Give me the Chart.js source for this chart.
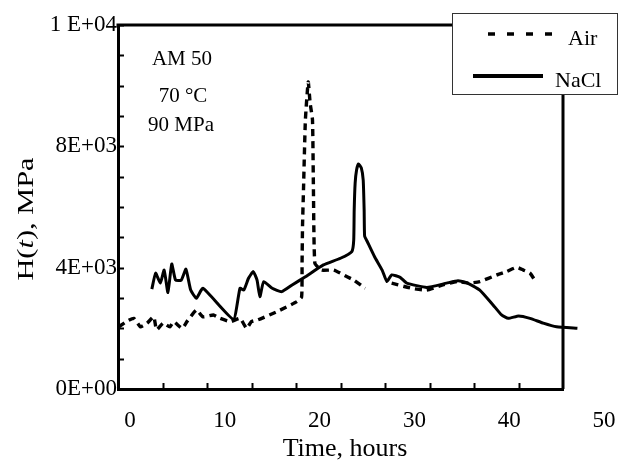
<!DOCTYPE html>
<html>
<head>
<meta charset="utf-8">
<script src="https://cdn.jsdelivr.net/npm/chart.js@4/dist/chart.umd.min.js"></script>
<style>
  html, body { margin: 0; padding: 0; background: #fff; }
  #wrap { width: 618px; height: 462px; }
</style>
</head>
<body>
<div id="wrap"><canvas id="c" width="618" height="462"></canvas></div>
<script>
// ---- data ----
const airTime  = [-1.2, -0.4, 0.4, 1.1, 1.8, 2.5, 2.8, 3.5, 4.2, 4.6, 5.5, 6.0, 7.0, 7.7, 8.8, 9.5, 10.6, 11.6, 12.3, 12.8, 13.5, 15.5, 17.6, 18.1, 18.15, 18.2, 18.3, 18.5, 18.8, 19.0, 19.25, 19.35, 19.5, 20.2, 21.5, 22.9, 23.6, 24.8, 26.2, 27.6, 29.7, 31.3, 33.0, 34.5, 35.7, 36.9, 38.7, 39.7, 40.8, 41.5, 42.2, 42.7];
const airValue = [2050, 2220, 2330, 2050, 2170, 2380, 1950, 2170, 2050, 2220, 2000, 2220, 2600, 2380, 2440, 2330, 2220, 2330, 2000, 2220, 2280, 2550, 2880, 3030, 4150, 5400, 6560, 8870, 10120, 9430, 8870, 6560, 4150, 3920, 3920, 3700, 3590, 3320, null, 3490, 3320, 3260, 3430, 3540, 3490, 3540, 3760, 3870, 4010, 3920, 3820, 3590];

const naclTime  = [2.3, 2.7, 3.2, 3.6, 4.0, 4.4, 4.8, 5.4, 5.9, 6.4, 7.0, 7.7, 10.9, 11.6, 12.0, 12.5, 13.0, 13.4, 13.7, 14.1, 15.0, 16.0, 17.1, 18.5, 20.4, 22.2, 23.4, 23.6, 23.65, 23.75, 23.9, 24.1, 24.4, 24.6, 24.7, 24.75, 25.0, 25.8, 26.6, 27.1, 27.6, 28.5, 29.2, 31.3, 33.4, 34.6, 35.5, 36.9, 38.3, 39.2, 39.9, 41.0, 42.2, 43.6, 45.0, 47.2];
const naclValue = [3290, 3820, 3490, 3920, 3180, 4120, 3590, 3590, 3950, 3260, 2990, 3320, 2300, 3320, 3260, 3650, 3870, 3590, 3040, 3540, 3320, 3210, 3430, 3700, 4090, 4310, 4530, 4910, 5900, 6790, 7220, 7420, 7290, 6890, 5900, 5040, 4880, 4360, 3920, 3540, 3760, 3680, 3490, 3350, 3490, 3570, 3510, 3260, 2770, 2440, 2330, 2410, 2330, 2170, 2050, 2000];

const xTickLabels = [0, 10, 20, 30, 40, 50];
const yTickValues = [0, 4000, 8000, 12000];
const yTickLabels = ['0E+00', '4E+03', '8E+03', '1 E+04'];
const seriesNames = ['Air', 'NaCl'];
const noteLines = ['AM 50', '70 \u00B0C', '90 MPa'];
const xTitle = 'Time, hours';

// axis range (x labels in the original do not sit on the tick marks)
const X_MIN = -1.27, X_MAX = 45.68;
const Y_MIN = 0, Y_MAX = 12000, Y_STEP = 1000;

const SERIF = '"Liberation Serif", "Times New Roman", serif';

function pts(xs, ys) { return xs.map((x, i) => ({ x: x, y: ys[i] })); }

const decor = {
  id: 'decor',
  beforeDatasetsDraw(chart) {
    const { ctx, chartArea: a } = chart;
    ctx.save();
    ctx.strokeStyle = '#000';
    ctx.lineWidth = 3;
    ctx.beginPath();
    ctx.moveTo(a.left - 1.5, a.top);
    ctx.lineTo(a.right, a.top);
    ctx.lineTo(a.right, a.bottom);
    ctx.stroke();
    // inward tick marks
    ctx.lineWidth = 2;
    const ys = chart.scales.y;
    for (let v = Y_MIN; v <= Y_MAX; v += Y_STEP) {
      const py = Math.round(ys.getPixelForValue(v)) + 0.5;
      ctx.beginPath(); ctx.moveTo(a.left, py); ctx.lineTo(a.left + 6, py); ctx.stroke();
    }
    const xs = chart.scales.x;
    for (let k = 1; k < 10; k++) {
      const v = X_MIN + k * (X_MAX - X_MIN) / 10;
      const px = Math.round(xs.getPixelForValue(v)) + 0.5;
      ctx.beginPath(); ctx.moveTo(px, a.bottom); ctx.lineTo(px, a.bottom - 6); ctx.stroke();
    }
    ctx.restore();
  },
  afterDraw(chart) {
    const { ctx } = chart;
    const xs = chart.scales.x;
    ctx.save();
    ctx.fillStyle = '#000';
    // x tick labels
    ctx.font = '23px ' + SERIF;
    ctx.textAlign = 'center';
    ctx.textBaseline = 'alphabetic';
    xTickLabels.forEach(v => ctx.fillText(String(v), xs.getPixelForValue(v), 427));
    // x title
    ctx.font = '26px ' + SERIF;
    ctx.fillText(xTitle, 345, 456);
    // y title  H(t), MPa with italic t
    ctx.save();
    ctx.translate(33, 219);
    ctx.rotate(-Math.PI / 2);
    ctx.scale(1.32, 1);
    const parts = [['H(', 'normal'], ['t', 'italic'], ['), MPa', 'normal']];
    let total = 0;
    parts.forEach(p => { ctx.font = p[1] + ' 23px ' + SERIF; total += ctx.measureText(p[0]).width; });
    let cx = -total / 2;
    ctx.textAlign = 'left';
    parts.forEach(p => { ctx.font = p[1] + ' 23px ' + SERIF; ctx.fillText(p[0], cx, 0); cx += ctx.measureText(p[0]).width; });
    ctx.restore();
    // annotation
    ctx.font = '21px ' + SERIF;
    ctx.textAlign = 'center';
    ctx.fillText(noteLines[0], 182, 65);
    ctx.fillText(noteLines[1], 183, 102);
    ctx.fillText(noteLines[2], 181, 131);
    // legend box
    ctx.fillStyle = '#fff';
    ctx.fillRect(452, 13, 166, 82);
    ctx.strokeStyle = '#333';
    ctx.lineWidth = 1;
    ctx.strokeRect(452.5, 13.5, 165, 81);
    ctx.strokeStyle = '#000';
    ctx.lineWidth = 3.6;
    ctx.lineCap = 'butt';
    ctx.setLineDash([7, 12]);
    ctx.beginPath(); ctx.moveTo(488, 34); ctx.lineTo(553, 34); ctx.stroke();
    ctx.setLineDash([]);
    ctx.lineWidth = 3.8;
    ctx.beginPath(); ctx.moveTo(473, 76); ctx.lineTo(543, 76); ctx.stroke();
    ctx.fillStyle = '#000';
    ctx.font = '22px ' + SERIF;
    ctx.textAlign = 'left';
    ctx.fillText(seriesNames[0], 568, 45);
    ctx.fillText(seriesNames[1], 555, 87);
    ctx.restore();
  }
};

new Chart(document.getElementById('c'), {
  type: 'line',
  data: {
    datasets: [
      {
        label: seriesNames[0],
        data: pts(airTime, airValue),
        borderColor: '#000',
        borderWidth: 3.4,
        borderDash: [7, 5],
        pointRadius: 0,
        fill: false,
        spanGaps: false,
        tension: 0.15,
        borderJoinStyle: 'round',
        clip: false
      },
      {
        label: seriesNames[1],
        data: pts(naclTime, naclValue),
        borderColor: '#000',
        borderWidth: 3,
        pointRadius: 0,
        fill: false,
        tension: 0.15,
        borderJoinStyle: 'round',
        clip: false
      }
    ]
  },
  options: {
    responsive: false,
    animation: false,
    devicePixelRatio: 1,
    layout: { padding: { top: 25, right: 55, left: 0, bottom: 0 } },
    plugins: { legend: { display: false }, tooltip: { enabled: false } },
    scales: {
      x: {
        type: 'linear',
        min: X_MIN, max: X_MAX,
        afterFit: s => { s.height = 73; },
        ticks: { display: false },
        grid: { drawOnChartArea: false, drawTicks: false },
        border: { display: true, width: 3, color: '#000' }
      },
      y: {
        type: 'linear',
        min: Y_MIN, max: Y_MAX,
        afterFit: s => { s.width = 118; },
        ticks: {
          stepSize: Y_STEP,
          autoSkip: false,
          padding: 1,
          color: '#000',
          font: { family: SERIF, size: 23 },
          callback: v => { const i = yTickValues.indexOf(v); return i >= 0 ? yTickLabels[i] : ''; }
        },
        grid: { drawOnChartArea: false, drawTicks: false },
        border: { display: true, width: 3, color: '#000' }
      }
    }
  },
  plugins: [decor]
});
</script>
</body>
</html>
